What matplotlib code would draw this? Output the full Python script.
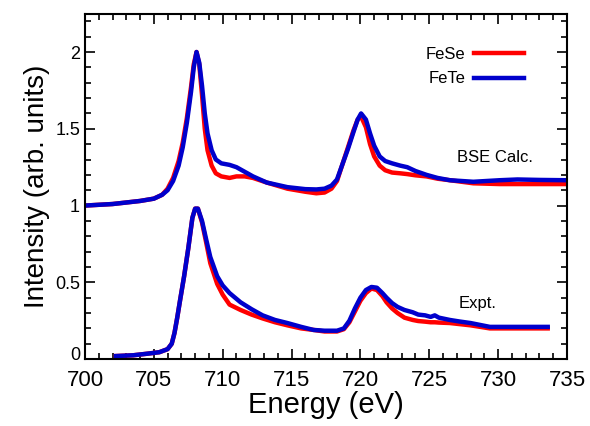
import numpy as np
import matplotlib.pyplot as plt
from matplotlib.ticker import MultipleLocator
from matplotlib.transforms import ScaledTranslation

plt.rcParams['font.family'] = ['Liberation Sans', 'DejaVu Sans']

# BSE calculation (upper curves)
calc_e = [700, 702, 704, 705, 705.6, 706.0, 706.4, 706.8, 707.1, 707.4, 707.7, 707.9, 708.1,
          708.3, 708.5, 708.7, 708.9, 709.2, 709.5, 709.9, 710.5, 711.0, 711.6, 712.2, 713.2,
          714.7, 716.0, 716.8, 717.4, 717.9, 718.3, 718.7, 719.1, 719.5, 719.8, 720.05, 720.4,
          720.7, 721.0, 721.4, 721.8, 722.3, 722.9, 723.4, 724.0, 724.8, 725.6, 726.5, 728.2,
          730.1, 731.4, 733, 735]
calc_fese = [1.0, 1.01, 1.03, 1.045, 1.07, 1.11, 1.18, 1.29, 1.41, 1.57, 1.77, 1.92, 2.0,
             1.92, 1.72, 1.50, 1.36, 1.26, 1.21, 1.19, 1.18, 1.19, 1.19, 1.18, 1.15,
             1.11, 1.09, 1.08, 1.085, 1.11, 1.16, 1.27, 1.38, 1.49, 1.56, 1.58, 1.51,
             1.40, 1.32, 1.26, 1.23, 1.215, 1.21, 1.205, 1.197, 1.19, 1.175, 1.165, 1.145,
             1.14, 1.14, 1.14, 1.14]
calc_fete = [1.0, 1.01, 1.03, 1.045, 1.07, 1.10, 1.16, 1.26, 1.38, 1.54, 1.74, 1.90, 2.0,
             1.93, 1.78, 1.60, 1.47, 1.36, 1.30, 1.275, 1.265, 1.25, 1.22, 1.19, 1.15,
             1.12, 1.107, 1.105, 1.11, 1.13, 1.17, 1.27, 1.37, 1.48, 1.56, 1.60, 1.56,
             1.47, 1.39, 1.32, 1.29, 1.275, 1.26, 1.25, 1.225, 1.20, 1.18, 1.165, 1.155,
             1.165, 1.17, 1.167, 1.165]

# experiment (lower curves)
expt_e = [702.25, 703.5, 704.5, 705.4, 706.0, 706.3, 706.5, 706.7, 706.9, 707.2, 707.5, 707.8,
          708.0, 708.2, 708.5, 708.8, 709.1, 709.6, 710.0, 710.5, 711.3, 712.1, 712.9, 713.8,
          714.7, 715.7, 716.6, 717.4, 718.3, 718.8, 719.2, 719.6, 720.0, 720.4, 720.8, 721.2,
          721.6, 721.9, 722.3, 722.7, 723.2, 723.8, 724.2, 724.7, 725.1, 725.4, 725.7, 726.5,
          727.2, 728.0, 729.4, 731.0, 733.6]
expt_fese = [0.02, 0.025, 0.035, 0.045, 0.065, 0.10, 0.17, 0.27, 0.38, 0.54, 0.72, 0.92,
             0.98, 0.98, 0.89, 0.76, 0.625, 0.49, 0.42, 0.355, 0.32, 0.29, 0.265, 0.24,
             0.22, 0.20, 0.19, 0.18, 0.18, 0.195, 0.24, 0.31, 0.38, 0.43, 0.46, 0.45,
             0.41, 0.37, 0.33, 0.30, 0.27, 0.255, 0.248, 0.244, 0.24, 0.24, 0.238, 0.235,
             0.228, 0.22, 0.20, 0.20, 0.20]
expt_fete = [0.02, 0.025, 0.035, 0.045, 0.065, 0.10, 0.17, 0.27, 0.38, 0.54, 0.72, 0.92,
             0.98, 0.98, 0.90, 0.78, 0.665, 0.54, 0.48, 0.43, 0.37, 0.325, 0.285, 0.255,
             0.235, 0.21, 0.19, 0.185, 0.185, 0.20, 0.25, 0.33, 0.40, 0.45, 0.47, 0.465,
             0.43, 0.40, 0.365, 0.34, 0.32, 0.305, 0.29, 0.285, 0.275, 0.285, 0.27, 0.255,
             0.245, 0.235, 0.21, 0.21, 0.21]

fig = plt.figure(figsize=(5.9, 4.26), dpi=100)
ax = fig.add_axes([0.144, 0.157, 0.817, 0.811])

ax.plot(calc_e, calc_fese, color='#ff0000', lw=3.2, label='FeSe', solid_joinstyle='round')
ax.plot(calc_e, calc_fete, color='#0000cc', lw=3.2, label='FeTe', solid_joinstyle='round')
ax.plot(expt_e, expt_fese, color='#ff0000', lw=3.2, solid_joinstyle='round')
ax.plot(expt_e, expt_fete, color='#0000cc', lw=3.2, solid_joinstyle='round')

ax.set_xlim(700, 735)
ax.set_ylim(0, 2.25)
ax.xaxis.set_major_locator(MultipleLocator(5))
ax.xaxis.set_minor_locator(MultipleLocator(1))
ax.yaxis.set_minor_locator(MultipleLocator(0.1))
ax.set_yticks([0, 0.5, 1, 1.5, 2])
ax.set_yticklabels(['0', '0.5', '1', '1.5', '2'])
ax.tick_params(which='both', direction='in', top=True, right=True, width=1.2)
ax.tick_params(which='major', length=7)
ax.tick_params(which='minor', length=4)
ax.tick_params(axis='x', labelsize=16, pad=8)
ax.tick_params(axis='y', labelsize=13)
for s in ax.spines.values():
    s.set_linewidth(1.5)

# lift the "0" label a little so it clears "700"
zero = ax.get_yticklabels()[0]
zero.set_transform(zero.get_transform() + ScaledTranslation(0, 4 / 72, fig.dpi_scale_trans))

ax.set_xlabel('Energy (eV)', fontsize=21, labelpad=0)
ax.set_ylabel('Intensity (arb. units)', fontsize=20)

ax.text(727.0, 1.316, 'BSE Calc.', fontsize=12, va='center')
ax.text(727.1, 0.365, 'Expt.', fontsize=12, va='center')

ax.legend(loc='upper right', bbox_to_anchor=(0.942, 0.946), markerfirst=False, frameon=False,
          fontsize=12, handlelength=3, handletextpad=0.5, labelspacing=0.55)

fig.savefig('out.png')
